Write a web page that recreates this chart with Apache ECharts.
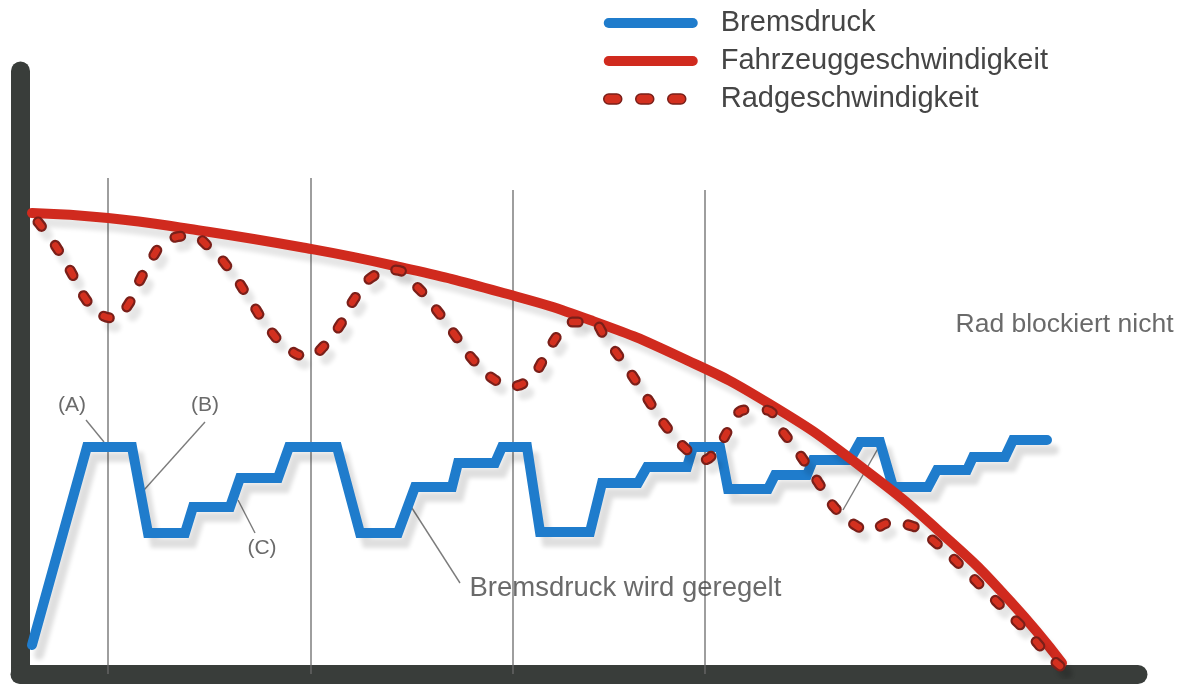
<!DOCTYPE html>
<html>
<head>
<meta charset="utf-8">
<script src="https://cdn.jsdelivr.net/npm/echarts@6/dist/echarts.min.js"></script>
<style>
html,body{margin:0;padding:0;background:#fff;}
#chart{width:1185px;height:685px;}
</style>
</head>
<body>
<div id="chart"></div>
<script>
// ---- data (time units on x, signal level on y) ----
const brakeX = [12,67,112,128,165,173,210,220,258,269,317,340,378,395,432,438,475,482,507,520,570,582,618,627,667,673,700,708,748,755,787,793,830,840,860,873,908,917,947,953,985,993,1027];
const brakeY = [29,227,227,141,141,167,167,196,196,227,227,141,141,187,187,211,211,227,227,142,142,191,191,207,207,227,227,185,185,199,199,214,214,232,232,187,187,204,204,217,217,234,234];

const vehicleX = [12,88,170,280,375,480,570,660,748,840,930,990,1042];
const vehicleY = [461,456,445,427,408,382,354,317,271,208,133,73,11];

const wheelX = [18,35,50,65,80,95,108,120,132,148,170,190,210,230,250,270,288,305,320,335,352,375,395,415,435,455,475,492,510,525,538,552,570,588,605,625,645,665,683,698,710,725,745,763,780,798,815,835,850,870,892,915,940,965,988,1010,1028,1040];
const wheelY = [452,429,404,376,360,356,369,394,416,434,438,426,404,374,344,324,318,329,349,376,397,404,389,366,339,312,294,288,296,317,339,352,352,332,309,279,249,226,214,227,246,264,264,242,219,192,166,149,144,151,148,132,109,84,61,39,19,8];

// control cycle boundaries
const cycleX = [88, 291, 493, 685];
const cycleTop = [496, 496, 484, 484];

// annotations
const annotationTexts = ['(A)', '(B)', '(C)', 'Bremsdruck wird geregelt', 'Rad blockiert nicht'];
const annotationX = [52, 185, 242, 449, 935];
const annotationY = [269, 269, 126, 86, 349];
const leaderFromX = [66, 185, 235, 440, 860];
const leaderFromY = [254, 252, 141, 91, 229];
const leaderToX = [84, 124, 218, 390, 823];
const leaderToY = [232, 184, 174, 169, 164];

const legendNames = ['Bremsdruck', 'Fahrzeuggeschwindigkeit', 'Radgeschwindigkeit'];

// ---- build ----
const zip = (xs, ys) => xs.map((x, i) => [x, ys[i]]);
const FONT = "'Liberation Sans', Arial, sans-serif";
const TEXT = '#454545';
const dash = [6, 23];

const series = [];
cycleX.forEach((x, i) => {
  series.push({
    type: 'line', name: 'cycle' + i, data: [[x, 0], [x, cycleTop[i]]],
    symbol: 'none', silent: true, z: 1,
    lineStyle: {color: '#6a6a6a', width: 1.3}
  });
});
leaderFromX.forEach((x, i) => {
  series.push({
    type: 'line', name: 'leader' + i,
    data: [[x, leaderFromY[i]], [leaderToX[i], leaderToY[i]]],
    symbol: 'none', silent: true, z: 1,
    lineStyle: {color: '#7c7c7c', width: 1.4}
  });
});
series.push({
  type: 'line', name: legendNames[0], data: zip(brakeX, brakeY),
  symbol: 'none', z: 3,
  lineStyle: {color: '#1f7ccc', width: 10, join: 'miter', cap: 'round',
    shadowColor: 'rgba(0,0,0,0.13)', shadowBlur: 4, shadowOffsetX: 7, shadowOffsetY: 10}
});
series.push({
  type: 'line', name: legendNames[1], data: zip(vehicleX, vehicleY),
  symbol: 'none', smooth: 0.5, z: 4,
  lineStyle: {color: '#d02a1e', width: 10, cap: 'round',
    shadowColor: 'rgba(0,0,0,0.10)', shadowBlur: 4, shadowOffsetX: 6, shadowOffsetY: 9}
});
series.push({
  type: 'line', name: 'wheelOutline', data: zip(wheelX, wheelY),
  symbol: 'none', smooth: 0.5, z: 5,
  lineStyle: {color: '#7a1f19', width: 11, type: dash, cap: 'round',
    shadowColor: 'rgba(0,0,0,0.10)', shadowBlur: 4, shadowOffsetX: 6, shadowOffsetY: 9}
});
series.push({
  type: 'line', name: legendNames[2], data: zip(wheelX, wheelY),
  symbol: 'none', smooth: 0.5, z: 6,
  lineStyle: {color: '#d3301f', width: 6.5, type: dash, cap: 'round'}
});
series.push({
  type: 'scatter', name: 'notes', symbolSize: 1, silent: true, z: 7,
  itemStyle: {color: 'rgba(0,0,0,0)'},
  data: annotationTexts.map((t, i) => {
    const left = t.length > 4;
    return {
      name: t, value: [annotationX[i], annotationY[i]],
      label: {
        show: true, formatter: '{b}',
        position: left ? 'right' : 'inside', distance: 0,
        fontFamily: FONT, fontSize: left ? (t.length > 20 ? 27.5 : 26.5) : 21, color: TEXT
      }
    };
  })
});

const capsule = 'path://M5,0H89A5,5 0 0 1 89,10H5A5,5 0 0 1 5,0Z';
const dots = 'path://M5,0H13A5,5 0 0 1 13,10H5A5,5 0 0 1 5,0Z M37,0H45A5,5 0 0 1 45,10H37A5,5 0 0 1 37,0Z M69,0H77A5,5 0 0 1 77,10H69A5,5 0 0 1 69,0Z M94,5';

const option = {
  animation: false,
  backgroundColor: '#ffffff',
  grid: {left: 20, right: 47, top: 71, bottom: 11},
  xAxis: {
    type: 'value', min: 0, max: 1118,
    axisLine: {show: true, lineStyle: {color: '#393d3a', width: 19, cap: 'round'}},
    axisTick: {show: false}, axisLabel: {show: false}, splitLine: {show: false}
  },
  yAxis: {
    type: 'value', min: 0, max: 603,
    axisLine: {show: true, lineStyle: {color: '#393d3a', width: 19, cap: 'round'}},
    axisTick: {show: false}, axisLabel: {show: false}, splitLine: {show: false}
  },
  legend: {
    orient: 'vertical', left: 603, top: 8, padding: 0,
    itemWidth: 94, itemHeight: 10, itemGap: 8,
    selectedMode: false,
    textStyle: {fontFamily: FONT, fontSize: 29, color: TEXT, lineHeight: 30, padding: [0, 0, 0, 18]},
    data: [
      {name: legendNames[0], icon: capsule, itemStyle: {color: '#1f7ccc', borderWidth: 0}},
      {name: legendNames[1], icon: capsule, itemStyle: {color: '#d02a1e', borderWidth: 0}},
      {name: legendNames[2], icon: dots, itemStyle: {color: '#d3301f', borderColor: '#7a1f19', borderWidth: 1.5}}
    ]
  },
  series: series
};

const chart = echarts.init(document.getElementById('chart'), null, {renderer: 'canvas'});
chart.setOption(option);
</script>
</body>
</html>
